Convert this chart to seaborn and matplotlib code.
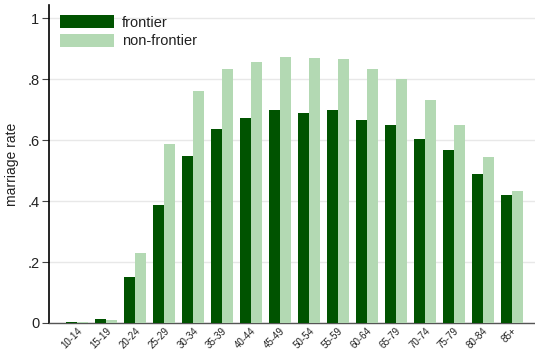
import matplotlib
matplotlib.use("Agg")
import matplotlib.pyplot as plt
import seaborn as sns
import pandas as pd

age_groups = ["10-14", "15-19", "20-24", "25-29", "30-34", "35-39", "40-44", "45-49",
              "50-54", "55-59", "60-64", "65-79", "70-74", "75-79", "80-84", "85+"]
frontier = [0.003, 0.012, 0.152, 0.386, 0.548, 0.635, 0.672, 0.700,
            0.688, 0.697, 0.665, 0.651, 0.605, 0.566, 0.489, 0.419]
non_frontier = [0.002, 0.011, 0.229, 0.586, 0.761, 0.832, 0.855, 0.874,
                0.868, 0.865, 0.832, 0.799, 0.730, 0.648, 0.543, 0.434]

df = pd.DataFrame({
    "age": age_groups * 2,
    "rate": frontier + non_frontier,
    "group": ["frontier"] * len(age_groups) + ["non-frontier"] * len(age_groups),
})

sns.set_style("white")
plt.rcParams["font.family"] = ["Liberation Sans", "DejaVu Sans"]

fig = plt.figure(figsize=(5.35, 3.51), dpi=100)
ax = fig.add_axes([49 / 535, 1 - 323 / 351, 1 - 49 / 535, (323 - 5) / 351])

palette = {"frontier": "#005300", "non-frontier": "#b3d9b3"}
sns.barplot(data=df, x="age", y="rate", hue="group", palette=palette,
            width=0.76, saturation=1, ax=ax, zorder=3)
for p in ax.patches:
    p.set_edgecolor("none")

ax.set_ylim(0, 1.043)
ax.set_xlim(-0.97, 15.8)
ax.set_yticks([0, 0.2, 0.4, 0.6, 0.8, 1.0])
ax.set_yticklabels(["0", ".2", ".4", ".6", ".8", "1"], fontsize=10.5, color="#222222")
ax.yaxis.grid(True, color="#e8e8e8", linewidth=1, zorder=0)
ax.set_axisbelow(True)
ax.tick_params(axis="y", left=True, length=5, width=0.8, color="#444444", pad=2)
ax.tick_params(axis="x", bottom=False, pad=-1.5)
ax.set_xticks(range(len(age_groups)))
ax.set_xticklabels(age_groups, rotation=45, ha="right", va="top",
                   rotation_mode="anchor", fontsize=7, color="#222222")

ax.set_xlabel("")
ax.set_ylabel("marriage rate", fontsize=10, labelpad=6, color="#222222")

for side in ["top", "right"]:
    ax.spines[side].set_visible(False)
ax.spines["left"].set_color("black")
ax.spines["left"].set_linewidth(1.2)
ax.spines["bottom"].set_color("#555555")
ax.spines["bottom"].set_linewidth(1.0)

leg = ax.legend(loc="upper left", bbox_to_anchor=(-0.006, 1.012), frameon=False,
                fontsize=10.5, handlelength=3.7, handleheight=1.0,
                handletextpad=0.55, labelspacing=0.28, borderaxespad=0.55)
for t in leg.get_texts():
    t.set_color("#222222")

fig.savefig("out.png", dpi=100)
